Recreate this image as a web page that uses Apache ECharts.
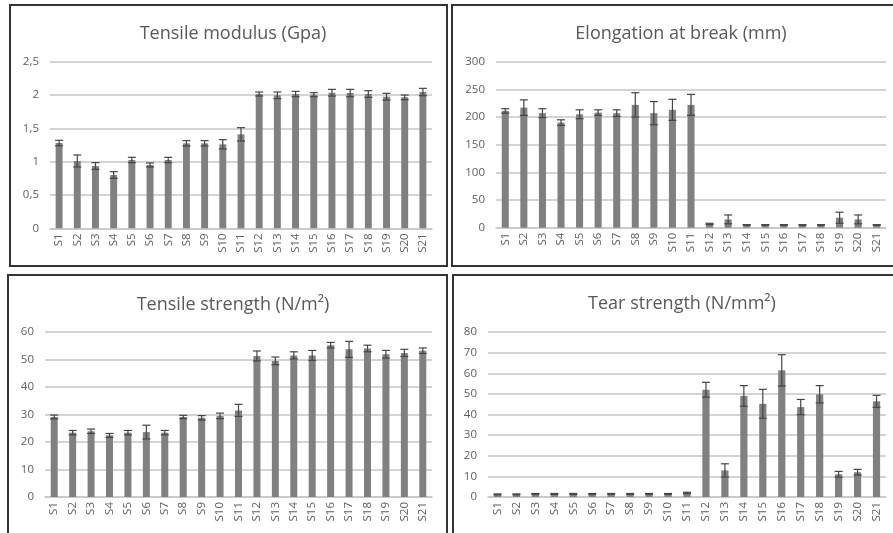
<!DOCTYPE html>
<html><head><meta charset="utf-8">
<script src="https://cdn.jsdelivr.net/npm/echarts@6/dist/echarts.min.js"></script>
<style>html,body{margin:0;padding:0;background:#fff}#c{width:893px;height:533px}</style>
</head><body><div id="c"></div>
<script>
const categories = ['S1','S2','S3','S4','S5','S6','S7','S8','S9','S10','S11','S12','S13','S14','S15','S16','S17','S18','S19','S20','S21'];

const titles = ['Tensile modulus (Gpa)', 'Elongation at break (mm)', 'Tensile strength (N/m\u00b2)', 'Tear strength (N/mm\u00b2)'];

const modulusValues = [1.28,1.01,0.935,0.80,1.025,0.95,1.025,1.275,1.275,1.26,1.41,2.015,1.995,2.015,2.005,2.035,2.03,2.015,1.975,1.965,2.045];
const modulusErrors = [0.04,0.09,0.05,0.05,0.04,0.03,0.04,0.04,0.04,0.07,0.10,0.03,0.05,0.04,0.03,0.05,0.055,0.05,0.05,0.035,0.055];

const elongationValues = [211,217,207,190,205,208,207,222,207,213,222,7,15,5,5,5,5,5,18,15,5];
const elongationErrors = [4,14,8,5,8,5,6,22,21,19,19,1,8,0.5,0.5,0.5,0.5,0.5,10,8,0.5];

const strengthValues = [29.1,23.4,23.9,22.4,23.4,23.6,23.4,29.1,28.8,29.5,31.5,51.3,49.5,51.5,51.5,55.2,53.7,54.0,51.9,52.4,53.2];
const strengthErrors = [0.7,0.8,0.8,0.7,0.8,2.5,0.8,0.6,0.8,1.0,2.2,1.8,1.4,1.3,1.8,1.0,2.9,1.2,1.4,1.3,1.0];

const tearValues = [1.3,1.3,1.5,1.5,1.5,1.5,1.5,1.5,1.5,1.5,2.0,52.0,12.9,49.0,45.2,61.4,43.6,49.8,11.0,12.0,46.4];
const tearErrors = [0.2,0.2,0.2,0.2,0.2,0.2,0.2,0.2,0.2,0.2,0.3,3.6,3.2,5.0,7.0,7.6,3.7,4.2,1.4,1.4,2.9];

const yMax = [2.5, 300, 60, 80];
const yInterval = [0.5, 50, 10, 10];

const allValues = [modulusValues, elongationValues, strengthValues, tearValues];
const allErrors = [modulusErrors, elongationErrors, strengthErrors, tearErrors];

const FONT = '"Open Sans", sans-serif';
const grids = [
  {left: 50, top: 61.7, width: 382, height: 166.6},
  {left: 496, top: 61.7, width: 390, height: 166},
  {left: 45, top: 332, width: 387, height: 165},
  {left: 488, top: 332, width: 398, height: 165}
];
const titlePos = [{x: 228, y: 20}, {x: 676, y: 20}, {x: 228, y: 291}, {x: 677, y: 290}];

const chart = echarts.init(document.getElementById('c'), null, {renderer: 'canvas'});

const xAxes = [], yAxes = [], series = [], titleOpts = [];
for (let i = 0; i < 4; i++) {
  titleOpts.push({
    text: titles[i], left: titlePos[i].x, top: titlePos[i].y, textAlign: 'center',
    textStyle: {fontFamily: FONT, fontSize: 18, fontWeight: 'normal', color: '#595959'}
  });
  xAxes.push({
    type: 'category', gridIndex: i, data: categories,
    axisLine: {show: true, lineStyle: {color: '#c6c6c6', width: 1.5}},
    axisTick: {show: false},
    axisLabel: {rotate: 90, interval: 0, fontFamily: FONT, fontSize: 11.5, color: '#606060', margin: 5}
  });
  yAxes.push({
    type: 'value', gridIndex: i, min: 0, max: yMax[i], interval: yInterval[i],
    axisLine: {show: false}, axisTick: {show: false},
    splitLine: {lineStyle: {color: '#c6c6c6', width: 1.5}},
    axisLabel: {fontFamily: FONT, fontSize: 11.5, color: '#606060', margin: 11,
      formatter: v => String(v).replace('.', ',')}
  });
  series.push({
    type: 'bar', xAxisIndex: i, yAxisIndex: i, data: allValues[i],
    barWidth: '38%', itemStyle: {color: '#808080'}, silent: true
  });
  const errData = allValues[i].map((v, k) => [k, v, allErrors[i][k]]);
  series.push({
    type: 'custom', xAxisIndex: i, yAxisIndex: i, data: errData, silent: true, z: 5,
    encode: {x: 0, y: 1},
    renderItem: function (params, api) {
      const k = api.value(0), v = api.value(1), e = api.value(2);
      const hi = api.coord([k, v + e]);
      const lo = api.coord([k, Math.max(0, v - e)]);
      const hw = 4;
      const st = {stroke: '#454545', lineWidth: 1.2};
      return {type: 'group', children: [
        {type: 'line', shape: {x1: hi[0], y1: hi[1], x2: lo[0], y2: lo[1]}, style: st},
        {type: 'line', shape: {x1: hi[0] - hw, y1: hi[1], x2: hi[0] + hw, y2: hi[1]}, style: st},
        {type: 'line', shape: {x1: lo[0] - hw, y1: lo[1], x2: lo[0] + hw, y2: lo[1]}, style: st}
      ]};
    }
  });
}

const borderStyle = {fill: 'none', stroke: '#333', lineWidth: 2};
chart.setOption({
  animation: false,
  backgroundColor: '#ffffff',
  title: titleOpts,
  grid: grids,
  xAxis: xAxes,
  yAxis: yAxes,
  series: series,
  graphic: [
    {type: 'rect', silent: true, shape: {x: 10, y: 5, width: 437, height: 261}, style: borderStyle},
    {type: 'rect', silent: true, shape: {x: 452, y: 5, width: 460, height: 261}, style: borderStyle},
    {type: 'rect', silent: true, shape: {x: 8, y: 275, width: 439, height: 280}, style: borderStyle},
    {type: 'rect', silent: true, shape: {x: 453, y: 275, width: 460, height: 280}, style: borderStyle}
  ]
});
</script></body></html>
